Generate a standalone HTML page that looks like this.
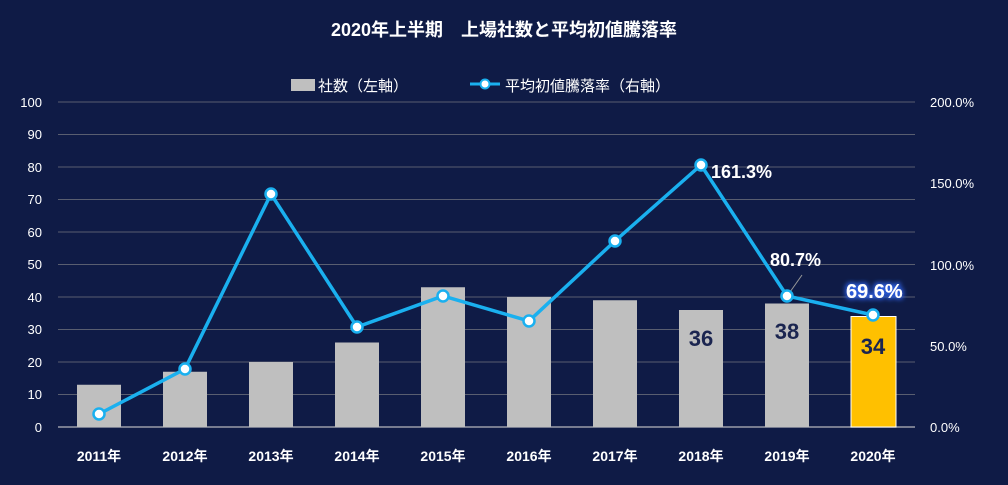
<!DOCTYPE html><html><head><meta charset="utf-8"><style>body{margin:0;background:#0f1b46;}svg{display:block}text{font-family:"Liberation Sans","Noto Sans CJK JP",sans-serif;}</style></head><body>
<svg width="1008" height="485" viewBox="0 0 1008 485">
<rect width="1008" height="485" fill="#0f1b46"/>
<defs>
<filter id="glow"><feMorphology in="SourceAlpha" operator="dilate" radius="1.5" result="d"/><feGaussianBlur in="d" stdDeviation="2.5" result="b"/><feFlood flood-color="#2a5ad8"/><feComposite in2="b" operator="in" result="c"/><feMerge><feMergeNode in="c"/><feMergeNode in="SourceGraphic"/></feMerge></filter></defs>
<text x="504" y="36" fill="#fff" font-size="18" font-weight="bold" text-anchor="middle">2020年上半期　上場社数と平均初値騰落率</text>
<rect x="291" y="79" width="24" height="12" fill="#bfbfbf"/>
<text x="318" y="91" fill="#fff" font-size="15">社数（左軸）</text>
<line x1="470" y1="84" x2="500" y2="84" stroke="#1ab0ef" stroke-width="3"/><circle cx="485" cy="84" r="4.5" fill="#fff" stroke="#1ab0ef" stroke-width="2"/>
<text x="505" y="91" fill="#fff" font-size="15">平均初値騰落率（右軸）</text>
<g stroke="#595e70" stroke-width="1">
<line x1="58" y1="102" x2="915" y2="102"/><line x1="58" y1="134.5" x2="915" y2="134.5"/><line x1="58" y1="167" x2="915" y2="167"/><line x1="58" y1="199.5" x2="915" y2="199.5"/><line x1="58" y1="232" x2="915" y2="232"/><line x1="58" y1="264.5" x2="915" y2="264.5"/><line x1="58" y1="297" x2="915" y2="297"/><line x1="58" y1="329.5" x2="915" y2="329.5"/><line x1="58" y1="362" x2="915" y2="362"/><line x1="58" y1="394.5" x2="915" y2="394.5"/></g>
<line x1="58" y1="427" x2="915" y2="427" stroke="#9a9ca8" stroke-width="1.5"/>
<g fill="#fff" font-size="13" text-anchor="end">
<text x="42" y="107">100</text><text x="42" y="139">90</text><text x="42" y="172">80</text><text x="42" y="204">70</text><text x="42" y="237">60</text><text x="42" y="269">50</text><text x="42" y="302">40</text><text x="42" y="334">30</text><text x="42" y="367">20</text><text x="42" y="399">10</text><text x="42" y="432">0</text></g>
<g fill="#fff" font-size="13"><text x="930" y="107">200.0%</text><text x="930" y="188">150.0%</text><text x="930" y="270">100.0%</text><text x="930" y="351">50.0%</text><text x="930" y="432">0.0%</text></g>
<g fill="#bfbfbf">
<rect x="77" y="384.75" width="44" height="42.25"/><rect x="163" y="371.75" width="44" height="55.25"/><rect x="249" y="362" width="44" height="65"/><rect x="335" y="342.5" width="44" height="84.5"/><rect x="421" y="287.25" width="44" height="139.75"/><rect x="507" y="297" width="44" height="130"/><rect x="593" y="300.25" width="44" height="126.75"/><rect x="679" y="310" width="44" height="117"/><rect x="765" y="303.5" width="44" height="123.5"/></g>
<rect x="851" y="316.5" width="45" height="110.5" fill="#ffc000" stroke="#fff" stroke-width="1"/>
<g fill="#1b2550" font-size="22" font-weight="bold" text-anchor="middle"><text x="701" y="346">36</text><text x="787" y="339">38</text><text x="873" y="354">34</text></g>
<g fill="#fff" font-size="14" font-weight="bold" text-anchor="middle">
<text x="99" y="461">2011年</text><text x="185" y="461">2012年</text><text x="271" y="461">2013年</text><text x="357" y="461">2014年</text><text x="443" y="461">2015年</text><text x="529" y="461">2016年</text><text x="615" y="461">2017年</text><text x="701" y="461">2018年</text><text x="787" y="461">2019年</text><text x="873" y="461">2020年</text></g>
<line x1="790" y1="292" x2="802" y2="275" stroke="#999" stroke-width="1"/>
<polyline points="99,414 185,369 271,194 357,327 443,296 529,321 615,241 701,165 787,296 873,315" fill="none" stroke="#1ab0ef" stroke-width="3.5"/>
<g fill="#fff" stroke="#1ab0ef" stroke-width="2.5">
<circle cx="99" cy="414" r="5.5"/><circle cx="185" cy="369" r="5.5"/><circle cx="271" cy="194" r="5.5"/><circle cx="357" cy="327" r="5.5"/><circle cx="443" cy="296" r="5.5"/><circle cx="529" cy="321" r="5.5"/><circle cx="615" cy="241" r="5.5"/><circle cx="701" cy="165" r="5.5"/><circle cx="787" cy="296" r="5.5"/><circle cx="873" cy="315" r="5.5"/></g>
<g fill="#fff" font-size="18" font-weight="bold"><text x="711" y="178">161.3%</text><text x="770" y="266">80.7%</text><text x="846" y="298" font-size="20" filter="url(#glow)">69.6%</text></g>
</svg></body></html>
